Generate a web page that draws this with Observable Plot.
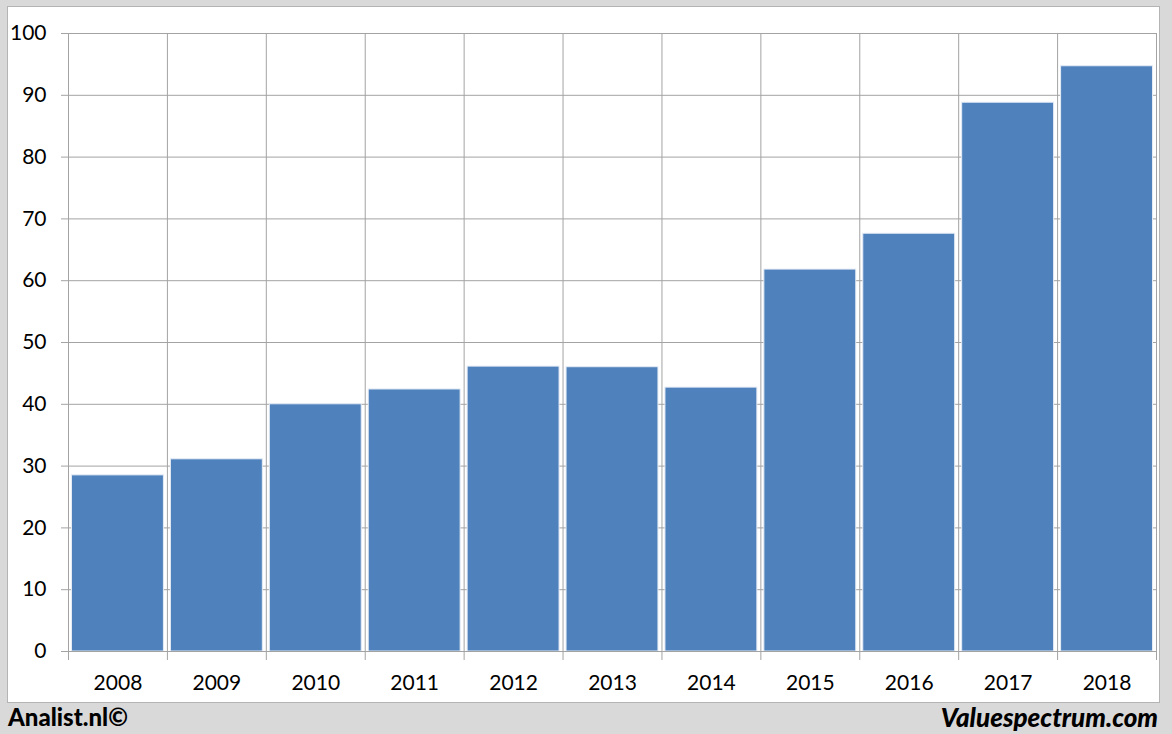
<!DOCTYPE html>
<html>
<head>
<meta charset="utf-8">
<script src="https://cdn.jsdelivr.net/npm/d3@7"></script>
<script src="https://cdn.jsdelivr.net/npm/@observablehq/plot@0.6"></script>
<style>
  html, body { margin: 0; padding: 0; }
  body { width: 1172px; height: 734px; background: #d9d9d9; position: relative; overflow: hidden; font-family: Lato, "Open Sans", sans-serif; }
  #panel { position: absolute; left: 7px; top: 6px; width: 1151px; height: 695px; background: #fff; border: 1px solid #b4b4b4; }
  #panel svg { position: absolute; left: 0; top: 0; }
  .foot { position: absolute; top: 702px; font-weight: 900; color: #000; line-height: 30px; }
  #left { left: 8px; font-size: 24px; }
  #right { right: 14px; font-style: italic; font-size: 26px; }
</style>
</head>
<body>
<div id="panel"></div>
<div class="foot" id="left">Analist.nl©</div>
<div class="foot" id="right">Valuespectrum.com</div>
<script>
const years = [2008, 2009, 2010, 2011, 2012, 2013, 2014, 2015, 2016, 2017, 2018];
const values = [28.5, 31.1, 40.0, 42.4, 46.1, 46.0, 42.7, 61.8, 67.6, 88.8, 94.7];
const yTicks = [0, 10, 20, 30, 40, 50, 60, 70, 80, 90, 100];
const boundaries = [2007.5, 2008.5, 2009.5, 2010.5, 2011.5, 2012.5, 2013.5, 2014.5, 2015.5, 2016.5, 2017.5, 2018.5];

const data = years.map((year, i) => ({year, value: values[i]}));
const gridColor = "#a3a3a3";

const chart = Plot.plot({
  width: 1151,
  height: 695,
  marginLeft: 60,
  marginRight: 3,
  marginTop: 26,
  marginBottom: 51,
  style: {fontFamily: "Lato, 'Open Sans', sans-serif", fontSize: "21px", color: "#000", background: "transparent"},
  x: {type: "linear", domain: [2007.5, 2018.5]},
  y: {domain: [0, 100]},
  marks: [
    Plot.gridY(yTicks, {stroke: gridColor, strokeOpacity: 1}),
    Plot.gridX(boundaries, {stroke: gridColor, strokeOpacity: 1}),
    Plot.rectY(data, {
      x1: d => d.year - 0.5,
      x2: d => d.year + 0.5,
      y: "value",
      fill: "#4f81bd",
      stroke: "#e4ebf5",
      strokeWidth: 1,
      insetLeft: 3.5,
      insetRight: 3.5
    }),
    Plot.axisY(yTicks, {tickSize: 7, tickPadding: 15, stroke: gridColor, fill: "#000", fontSize: 21, label: null, tickFormat: d => String(d)}),
    Plot.axisX(boundaries, {tickSize: 9, tickPadding: 0, stroke: gridColor, tickFormat: () => "", label: null}),
    Plot.axisX(years, {tickSize: 0, tickPadding: 24, fill: "#000", fontSize: 21, label: null, tickFormat: d => String(d)}),
    Plot.ruleY([0], {stroke: gridColor})
  ]
});
document.getElementById("panel").appendChild(chart);
</script>
</body>
</html>
